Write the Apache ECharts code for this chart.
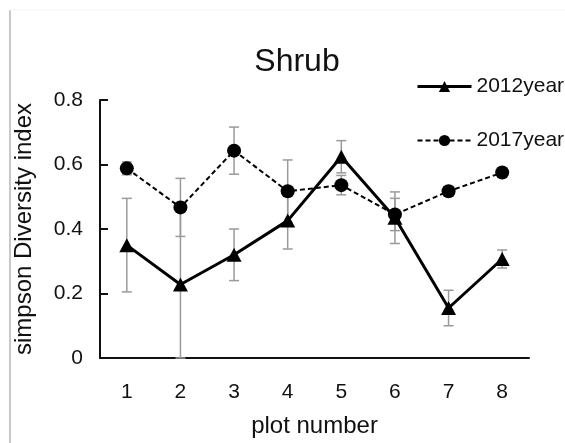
<!DOCTYPE html>
<html>
<head>
<meta charset="utf-8">
<script src="https://cdn.jsdelivr.net/npm/echarts@6/dist/echarts.min.js"></script>
<style>html,body{margin:0;padding:0;background:#fff}#c{width:565px;height:443px}</style>
</head>
<body>
<div id="c"></div>
<script>
var categories = ['1','2','3','4','5','6','7','8'];
var values2012 = [0.35, 0.228, 0.32, 0.426, 0.624, 0.435, 0.155, 0.307];
var err2012    = [0.145, 0.23, 0.08, 0.088, 0.05, 0.08, 0.055, 0.028];
var values2017 = [0.588, 0.467, 0.643, 0.517, 0.536, 0.445, 0.517, 0.575];
var err2017    = [0.02, 0.09, 0.073, 0.097, 0.03, 0.05, 0.015, 0.015];
var yTicks = [0, 0.2, 0.4, 0.6, 0.8];

var chart = echarts.init(document.getElementById('c'), null, {renderer:'canvas'});
var FONT = 'Liberation Sans, Arial, sans-serif';

function errData(vals, errs){
  return vals.map(function(v,i){ return [i, Math.max(0, v-errs[i]), v+errs[i]]; });
}
function errRender(params, api){
  var x = api.value(0);
  var lo = api.coord([x, api.value(1)]);
  var hi = api.coord([x, api.value(2)]);
  var w = 5;
  var st = {stroke:'#9a9a9a', lineWidth:1.5};
  return {type:'group', children:[
    {type:'line', shape:{x1:lo[0],y1:lo[1],x2:hi[0],y2:hi[1]}, style:st},
    {type:'line', shape:{x1:hi[0]-w,y1:hi[1],x2:hi[0]+w,y2:hi[1]}, style:st},
    {type:'line', shape:{x1:lo[0]-w,y1:lo[1],x2:lo[0]+w,y2:lo[1]}, style:st}
  ]};
}

chart.setOption({
  backgroundColor:'#fff',
  animation:false,
  title:{text:'Shrub', left:292, top:41, textAlign:'center',
    textStyle:{fontFamily:FONT, fontSize:32, fontWeight:'normal', color:'#111'}},
  legend:{orient:'vertical', left:411, top:71, itemWidth:54, itemHeight:14, itemGap:33,
    textStyle:{fontFamily:FONT, fontSize:21, color:'#111'},
    data:[
      {name:'2012year', lineStyle:{width:3, color:'#000'}},
      {name:'2017year', lineStyle:{width:2, color:'#000', type:[5,3]}}
    ]},
  grid:{left:100, top:100, right:36, bottom:80, containLabel:false},
  xAxis:{type:'category', data:categories, boundaryGap:true,
    name:'plot number', nameLocation:'middle', nameGap:56,
    nameTextStyle:{fontFamily:FONT, fontSize:24, color:'#111'},
    axisLine:{lineStyle:{color:'#111', width:2}},
    axisTick:{inside:true, length:10, interval:0, lineStyle:{color:'#111', width:2}},
    axisLabel:{fontFamily:FONT, fontSize:21, color:'#111', margin:24}},
  yAxis:{type:'value', min:0, max:0.8, interval:0.2,
    name:'simpson Diversity index', nameLocation:'middle', nameGap:64, nameRotate:90,
    nameTextStyle:{fontFamily:FONT, fontSize:24, color:'#111'},
    axisLine:{show:true, lineStyle:{color:'#111', width:2}},
    axisTick:{show:true, inside:true, length:8, lineStyle:{color:'#111', width:2}},
    splitLine:{show:false},
    axisLabel:{fontFamily:FONT, fontSize:21, color:'#111', margin:17,
      formatter:function(v){ return v===0 ? '0' : v.toFixed(1); }}},
  graphic:[
    {type:'line', shape:{x1:10,y1:10,x2:10,y2:443}, style:{stroke:'#c8c8c8', lineWidth:2}},
    {type:'line', shape:{x1:10,y1:10,x2:565,y2:10}, style:{stroke:'#f3f3f3', lineWidth:1}}
  ],
  series:[
    {type:'custom', name:'err2012', renderItem:errRender, data:errData(values2012, err2012), z:1, silent:true},
    {type:'custom', name:'err2017', renderItem:errRender, data:errData(values2017, err2017), z:1, silent:true},
    {type:'line', name:'2012year', data:values2012, symbol:'triangle', symbolSize:[15,14],
      lineStyle:{color:'#000', width:3}, itemStyle:{color:'#000'}, z:3},
    {type:'line', name:'2017year', data:values2017, symbol:'circle', symbolSize:14,
      lineStyle:{color:'#000', width:2, type:[5,3]}, itemStyle:{color:'#000'}, z:2}
  ]
});
</script>
</body>
</html>
